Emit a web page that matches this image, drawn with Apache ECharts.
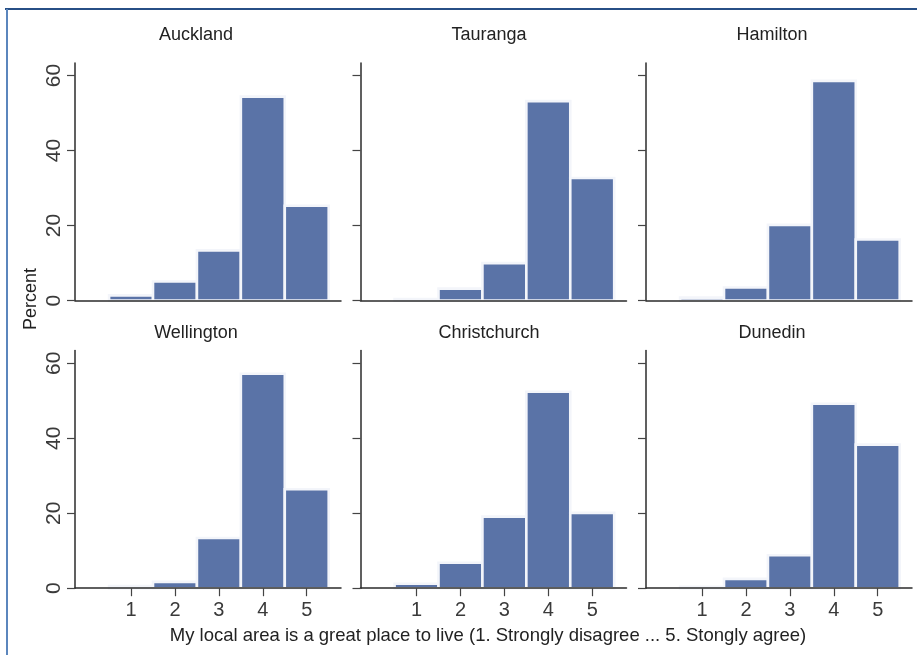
<!DOCTYPE html>
<html>
<head>
<meta charset="utf-8">
<title>Local area rating by city</title>
<script src="https://cdn.jsdelivr.net/npm/echarts@6/dist/echarts.min.js"></script>
<style>
  html, body { margin: 0; padding: 0; background: #fff; }
  #chart { width: 917px; height: 655px; }
</style>
</head>
<body>
<div id="chart"></div>
<script>
// Response scale 1..5 and percent of respondents per city
const categories = [1, 2, 3, 4, 5];
const cities = ['Auckland', 'Tauranga', 'Hamilton', 'Wellington', 'Christchurch', 'Dunedin'];
const auckland = [1.4, 5.1, 13.4, 54.4, 25.3];
const tauranga = [0.4, 3.2, 10.0, 53.2, 32.7];
const hamilton = [0.8, 3.5, 20.2, 58.6, 16.3];
const wellington = [0.6, 1.7, 13.4, 57.2, 26.4];
const christchurch = [1.2, 6.8, 19.1, 52.4, 20.1];
const dunedin = [0.4, 2.5, 8.8, 49.2, 38.3];
const yTicks = [0, 20, 40, 60];
const xTitle = 'My local area is a great place to live (1. Strongly disagree ... 5. Stongly agree)';
const yTitle = 'Percent';

const cityValues = [auckland, tauranga, hamilton, wellington, christchurch, dunedin];

const FONT = '"Liberation Sans", Arial, sans-serif';
const BAR = '#5a73a7';
const INK = '#2b2b2b';

// Panel layout (3 columns x 2 rows)
const colLeft = [75, 360.5, 646];
const colTitleX = [196, 489, 772];
const rowTop = [63, 350.6];
const rowTitleY = [35, 333];
const panelW = 266;
const panelH = 237.6;
const yMax = 63.36;
const xMin = -0.276, xMax = 5.78;

const grids = [], xAxes = [], yAxes = [], series = [], graphics = [];

cities.forEach((city, i) => {
  const col = i % 3, row = Math.floor(i / 3);
  const bottomRow = row === 1;
  grids.push({ left: colLeft[col], top: rowTop[row], width: panelW, height: panelH });
  xAxes.push({
    type: 'value', gridIndex: i, min: xMin, max: xMax, z: 5,
    splitLine: { show: false },
    axisLine: { show: true, onZero: false, lineStyle: { color: INK, width: 1.5 } },
    axisTick: { show: bottomRow, customValues: categories, length: 8, lineStyle: { color: '#444', width: 1.2 } },
    axisLabel: { show: bottomRow, customValues: categories, fontSize: 20, color: '#3a3a3a', fontFamily: FONT, margin: 12 }
  });
  yAxes.push({
    type: 'value', gridIndex: i, min: 0, max: yMax, z: 5,
    splitLine: { show: false },
    axisLine: { show: true, onZero: false, lineStyle: { color: INK, width: 1.5 } },
    axisTick: { show: true, customValues: yTicks, length: 8, lineStyle: { color: '#444', width: 1.2 } },
    axisLabel: { show: col === 0, customValues: yTicks, rotate: 90, fontSize: 21, color: '#3a3a3a', fontFamily: FONT, margin: 10 }
  });
  series.push({
    type: 'custom', xAxisIndex: i, yAxisIndex: i, z: 2,
    data: categories.map((c, k) => [c, cityValues[i][k]]),
    renderItem: function (params, api) {
      const x = api.value(0), y = api.value(1);
      const p0 = api.coord([x - 0.5, y]);
      const p1 = api.coord([x + 0.5, 0]);
      return {
        type: 'rect',
        shape: { x: p0[0], y: p0[1], width: p1[0] - p0[0], height: p1[1] - p0[1] },
        style: { fill: BAR, stroke: '#f3f5fa', lineWidth: 2.6 }
      };
    }
  });
  graphics.push({
    type: 'text', x: colTitleX[col], y: rowTitleY[row],
    style: { text: city, fontSize: 18, fontFamily: FONT, fill: '#222', align: 'center', verticalAlign: 'middle' }
  });
});

// Shared axis titles
graphics.push({
  type: 'text', x: 488, y: 636,
  style: { text: xTitle, fontSize: 18.5, fontFamily: FONT, fill: '#222', align: 'center', verticalAlign: 'middle' }
});
graphics.push({
  type: 'text', x: 31, y: 299, rotation: Math.PI / 2,
  style: { text: yTitle, fontSize: 18, fontFamily: FONT, fill: '#222', align: 'center', verticalAlign: 'middle' }
});
// Frame lines along the top and left edges
graphics.push({ type: 'line', shape: { x1: 5, y1: 9, x2: 917, y2: 9 }, style: { stroke: '#274f86', lineWidth: 2 } });
graphics.push({ type: 'line', shape: { x1: 7, y1: 9, x2: 7, y2: 655 }, style: { stroke: '#5b86bd', lineWidth: 2 } });

const chart = echarts.init(document.getElementById('chart'), null, { renderer: 'canvas' });
chart.setOption({
  animation: false,
  backgroundColor: '#ffffff',
  grid: grids,
  xAxis: xAxes,
  yAxis: yAxes,
  series: series,
  graphic: graphics
});
</script>
</body>
</html>
